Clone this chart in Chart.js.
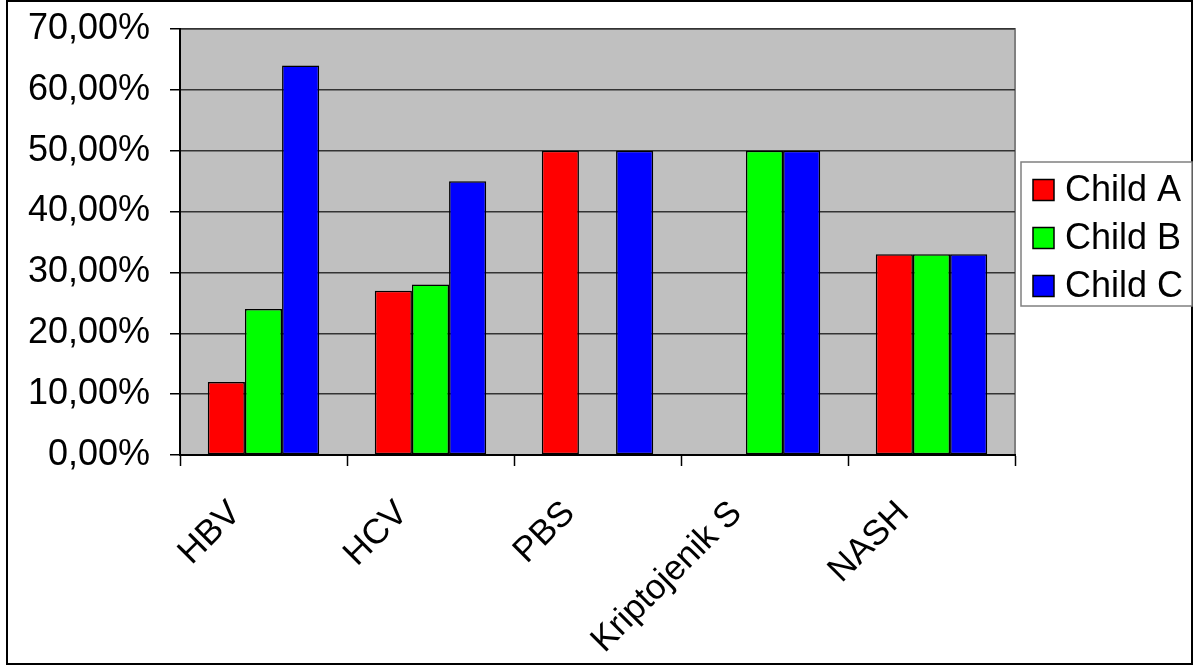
<!DOCTYPE html>
<html>
<head>
<meta charset="utf-8">
<script src="https://cdn.jsdelivr.net/npm/chart.js@4/dist/chart.umd.min.js"></script>
<style>
  body { margin: 0; background: #fff; }
  canvas { display: block; }
</style>
</head>
<body>
<canvas id="chart" width="1198" height="666"></canvas>
<script>
const categories = ['HBV', 'HCV', 'PBS', 'Kriptojenik S', 'NASH']
const childA = [12, 27, 50, 0, 33]
const childB = [24, 28, 0, 50, 33]
const childC = [64, 45, 50, 50, 33]
const seriesNames = ['Child A', 'Child B', 'Child C']
const seriesColors = ['#ff0000', '#00ff00', '#0000ff']

const FONT = 'Liberation Sans, Arial, sans-serif'

// white page, frame around everything and the grey plot area
const backdrop = {
  id: 'backdrop',
  beforeDraw(chart) {
    const ctx = chart.ctx
    const a = chart.chartArea
    ctx.save()
    ctx.fillStyle = '#fff'
    ctx.fillRect(0, 0, chart.width, chart.height)
    ctx.fillStyle = '#c0c0c0'
    ctx.fillRect(a.left, a.top, a.right - a.left, a.bottom - a.top)
    ctx.strokeStyle = '#808080'
    ctx.lineWidth = 2
    ctx.strokeRect(a.left, a.top, a.right - a.left, a.bottom - a.top)
    ctx.strokeStyle = '#000'
    ctx.lineWidth = 2
    ctx.strokeRect(7, 1, 1185, 663)
    ctx.restore()
  }
}

// boxed legend to the right of the plot
const boxLegend = {
  id: 'boxLegend',
  afterDraw(chart) {
    const ctx = chart.ctx
    ctx.save()
    ctx.fillStyle = '#fff'
    ctx.fillRect(1021, 162, 171, 144)
    ctx.strokeStyle = '#808080'
    ctx.lineWidth = 1.5
    ctx.strokeRect(1021, 162, 171, 144)
    ctx.font = '36px ' + FONT
    ctx.textBaseline = 'middle'
    chart.data.datasets.forEach((ds, i) => {
      const cy = 190 + i * 48
      ctx.fillStyle = ds.backgroundColor
      ctx.fillRect(1033, cy - 10.5, 21, 21)
      ctx.strokeStyle = '#000'
      ctx.lineWidth = 1.5
      ctx.strokeRect(1033, cy - 10.5, 21, 21)
      ctx.fillStyle = '#000'
      ctx.fillText(ds.label, 1065, cy + 1)
    })
    ctx.restore()
  }
}

const datasets = [childA, childB, childC].map((values, i) => ({
  label: seriesNames[i],
  data: values,
  backgroundColor: seriesColors[i],
  borderColor: '#000',
  borderWidth: 1.5,
  borderSkipped: false,
  categoryPercentage: 0.667,
  barPercentage: 1
}))

new Chart(document.getElementById('chart'), {
  type: 'bar',
  data: { labels: categories, datasets: datasets },
  options: {
    responsive: false,
    animation: false,
    layout: { padding: { left: 0, right: 183, top: 29, bottom: 0 } },
    plugins: {
      legend: { display: false },
      tooltip: { enabled: false }
    },
    scales: {
      x: {
        afterFit(scale) {
          scale.height = 211
          scale.paddingLeft = 0
          scale.paddingRight = 0
        },
        grid: {
          offset: true,
          drawOnChartArea: false,
          drawTicks: true,
          tickLength: 11,
          tickColor: '#000',
          tickWidth: 1.5
        },
        border: { color: '#000', width: 2 },
        ticks: {
          color: '#000',
          font: { family: FONT, size: 35 },
          minRotation: 45,
          maxRotation: 45,
          padding: 27,
          labelOffset: -28
        }
      },
      y: {
        min: 0,
        max: 70,
        afterFit(scale) {
          scale.width = 180
          scale.paddingTop = 0
          scale.paddingBottom = 0
        },
        grid: {
          color: '#333',
          lineWidth: 1.5,
          tickLength: 10,
          tickColor: '#000'
        },
        border: { color: '#000', width: 2 },
        ticks: {
          stepSize: 10,
          color: '#000',
          padding: 20,
          font: { family: FONT, size: 36 },
          callback: v => v.toFixed(2).replace('.', ',') + '%'
        }
      }
    }
  },
  plugins: [backdrop, boxLegend]
})
</script>
</body>
</html>
